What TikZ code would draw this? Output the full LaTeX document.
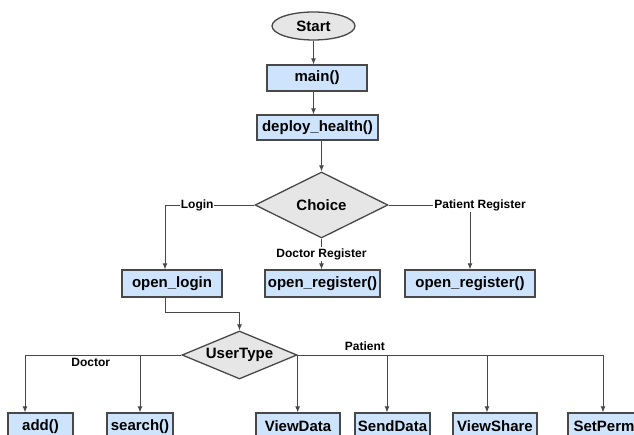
\documentclass[tikz,border=0pt]{standalone}
\usepackage{fontspec}
\setmainfont{Liberation Sans}
\usetikzlibrary{arrows.meta, shapes.geometric, positioning, calc}

\definecolor{boxblue}{RGB}{206,228,252}
\definecolor{diagray}{RGB}{230,230,230}
\definecolor{edgegray}{RGB}{72,72,72}

\begin{document}
\begin{tikzpicture}[x=1pt, y=-1pt,
		func/.style={draw=edgegray, line width=1.3pt, fill=boxblue, inner sep=0pt, minimum height=27pt, font=\bfseries\fontsize{15}{18}\selectfont},
		decision/.style={diamond, aspect=2.4, draw=edgegray, line width=1.3pt, fill=diagray, inner sep=0pt, font=\bfseries\fontsize{15}{18}\selectfont},
		terminal/.style={ellipse, draw=edgegray, line width=1.3pt, fill=diagray, inner sep=0pt, font=\bfseries\fontsize{15}{18}\selectfont},
		flow/.style={draw=edgegray, line width=0.9pt, -{Latex[length=6pt, width=5pt]}},
		branch/.style={fill=white, inner sep=1pt, font=\bfseries\fontsize{12}{14}\selectfont}]
		\clip (0,0) rectangle (634,435);
		\fill [white] (0,0) rectangle (634,435);

		\node [terminal, minimum width=83pt, minimum height=28pt] (start) at (313.5,26) {Start};
		\node [func, minimum width=100pt, minimum height=26pt] (main) at (317,78) {main()};
		\node [func, minimum width=121pt, minimum height=25pt] (deploy) at (317.5,127.5) {deploy\_health()};
		\node [decision, minimum width=133pt, minimum height=66pt] (choice) at (321.5,205) {Choice};

		\node [func, minimum width=100pt] (login) at (172,283.5) {open\_login};
		\node [func, minimum width=115pt] (regdoc) at (322.5,283.5) {open\_register()};
		\node [func, minimum width=130pt] (regpat) at (470,283.5) {open\_register()};

		\node [decision, minimum width=115pt, minimum height=48pt] (usertype) at (239.5,355) {UserType};

		\node [func, minimum width=65pt] (add) at (40.5,426.5) {add()};
		\node [func, minimum width=66pt] (search) at (140,426.5) {search()};
		\node [func, minimum width=84pt] (viewdata) at (298,426.5) {ViewData};
		\node [func, minimum width=75pt] (senddata) at (392.5,426.5) {SendData};
		\node [func, minimum width=84pt] (viewshare) at (495,426.5) {ViewShare};
		\node [func, minimum width=72pt] (setperm) at (604,426.5) {SetPerm};

		\draw [flow] (start.south) -- (start.south |- main.north);
		\draw [flow] (start.south |- main.south) -- (start.south |- deploy.north);
		\draw [flow] (choice.north |- deploy.south) -- (choice.north);

		\draw [flow] (choice.west) -| node [branch, pos=0.32] {Login} ([xshift=-7pt]login.north);
		\draw [flow] (choice.south) -- node [branch] {Doctor Register} (choice.south |- regdoc.north);
		\draw [flow] (choice.east) -| node [branch, pos=0.5, xshift=10pt] {Patient Register} (regpat.north);

		\draw [flow] ([xshift=-7pt]login.south) |- ($(usertype.north)+(0,-18)$) -- (usertype.north);

		\draw [flow] (usertype.west) -| node [branch, pos=0.29, below=2pt] {Doctor} ([xshift=-15.5pt]add.north);
		\draw [flow] (search.north |- usertype.west) -- (search.north);

		\draw [flow] (usertype.east) -- (usertype.east |- viewdata.north);
		\draw [flow] (usertype.east) -| node [branch, pos=0.11, above=3pt] {Patient} ([xshift=-1pt]setperm.north);
		\draw [flow] ([xshift=-5.5pt]senddata.north |- usertype.east) -- ([xshift=-5.5pt]senddata.north);
		\draw [flow] ([xshift=-8pt]viewshare.north |- usertype.east) -- ([xshift=-8pt]viewshare.north);
	\end{tikzpicture}
\end{document}
